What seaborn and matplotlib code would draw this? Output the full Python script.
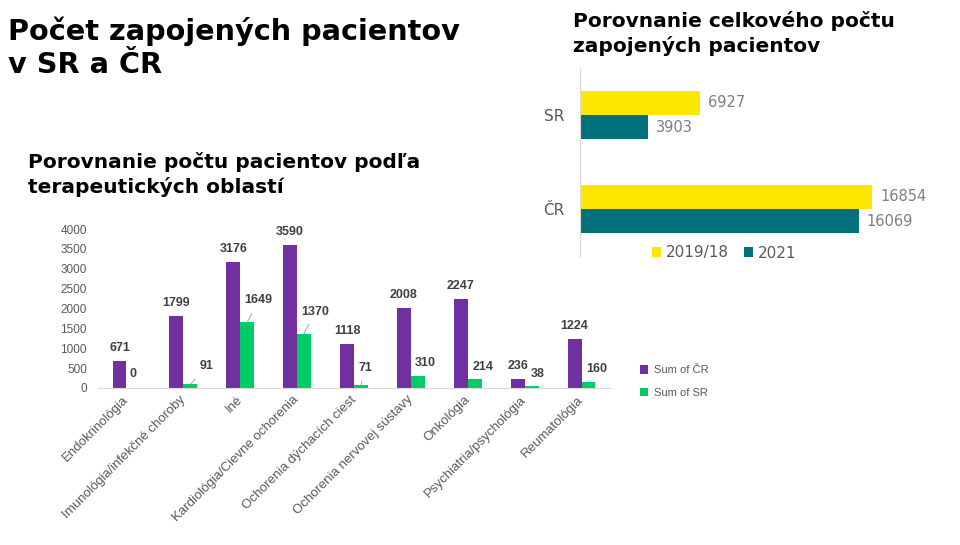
import pandas as pd
import matplotlib.pyplot as plt
import seaborn as sns

# --- data ---
oblasti = ['Endokrinológia', 'Imunológia/infekčné choroby', 'Iné', 'Kardiológia/Cievne ochorenia',
           'Ochorenia dýchacích ciest', 'Ochorenia nervovej sústavy', 'Onkológia',
           'Psychiatria/psychológia', 'Reumatológia']
pocet_cr = [671, 1799, 3176, 3590, 1118, 2008, 2247, 236, 1224]
pocet_sr = [0, 91, 1649, 1370, 71, 310, 214, 38, 160]
serie = ['Sum of ČR', 'Sum of SR']

krajiny = ['SR', 'ČR']
obdobia = ['2019/18', '2021']
celkom_2019 = [6927, 16854]
celkom_2021 = [3903, 16069]

# SR labels were moved by hand in the original (dx, dy in px), some with leader lines
sr_offsets = [(0, 14), (16, 18), (11, 22), (11, 22), (4, 17), (7, 13), (8.5, 12.5), (6.5, 12.5), (8, 12.5)]
sr_leader = [False, True, True, True, True, False, False, False, False]

sns.set_style('white')
plt.rcParams['font.family'] = ['DejaVu Sans']

W, H = 960, 545
fig = plt.figure(figsize=(9.6, 5.45), dpi=100)

# --- titles ---
fig.text(8 / W, 1 - 40 / H, 'Počet zapojených pacientov', fontsize=20.7, fontweight='bold', va='baseline', color='black')
fig.text(8 / W, 1 - 73 / H, 'v SR a ČR', fontsize=20.7, fontweight='bold', va='baseline', color='black')
fig.text(28 / W, 1 - 168 / H, 'Porovnanie počtu pacientov podľa', fontsize=14.5, fontweight='bold', va='baseline', color='black')
fig.text(28 / W, 1 - 193 / H, 'terapeutických oblastí', fontsize=14.5, fontweight='bold', va='baseline', color='black')
fig.text(573 / W, 1 - 27 / H, 'Porovnanie celkového počtu', fontsize=14.5, fontweight='bold', va='baseline', color='black')
fig.text(573 / W, 1 - 52 / H, 'zapojených pacientov', fontsize=14.5, fontweight='bold', va='baseline', color='black')

# --- therapeutic areas chart ---
df_obl = pd.DataFrame({
    'oblast': oblasti * 2,
    'rad': [serie[0]] * len(oblasti) + [serie[1]] * len(oblasti),
    'pocet': pocet_cr + pocet_sr,
})

ax1 = fig.add_axes([98 / W, 1 - 388 / H, 512 / W, 159 / H])
sns.barplot(data=df_obl, x='oblast', y='pocet', hue='rad', palette=['#7030A0', '#00CC66'],
            width=0.49, errorbar=None, saturation=1, linewidth=0, ax=ax1)
ax1.set_ylim(0, 4000)
ax1.set_xlim(-0.5, 8.5)
ax1.set_yticks(range(0, 4001, 500))
ax1.set_xlabel('')
ax1.set_ylabel('')
for s in ['top', 'right', 'left']:
    ax1.spines[s].set_visible(False)
ax1.spines['bottom'].set_color('#D9D9D9')
ax1.tick_params(axis='both', length=0)
ax1.tick_params(axis='y', pad=8, labelsize=8.5, labelcolor='#595959')
ax1.set_xticks(range(len(oblasti)))
ax1.set_xticklabels(oblasti, rotation=45, ha='right', va='center', rotation_mode='anchor',
                    fontsize=9.5, color='#595959', family='Liberation Sans')
ax1.tick_params(axis='x', pad=7)
for t in ax1.get_yticklabels():
    t.set_family('Liberation Sans')

for i, p in enumerate(ax1.containers[0]):
    x = p.get_x() + p.get_width() / 2
    ax1.annotate(str(pocet_cr[i]), (x, pocet_cr[i]), xytext=(0, 13 * 0.72), textcoords='offset points',
                 ha='center', va='center', fontsize=9, fontweight='bold', color='#404040',
                 family='Liberation Sans')
for i, p in enumerate(ax1.containers[1]):
    x = p.get_x() + p.get_width() / 2
    dx, dy = sr_offsets[i]
    arrow = dict(arrowstyle='-', color='#A6A6A6', lw=0.7, shrinkA=3, shrinkB=0) if sr_leader[i] else None
    ax1.annotate(str(pocet_sr[i]), (x, pocet_sr[i]), xytext=(dx * 0.72, dy * 0.72), textcoords='offset points',
                 ha='center', va='center', fontsize=9, fontweight='bold', color='#404040',
                 family='Liberation Sans', arrowprops=arrow)

h, l = ax1.get_legend_handles_labels()
ax1.legend(h, l, loc='center left', bbox_to_anchor=(630 / W, 1 - 381.5 / H), bbox_transform=fig.transFigure,
           frameon=False, prop={'family': 'Liberation Sans', 'size': 8}, handlelength=0.75, handleheight=0.75,
           handletextpad=0.5, labelspacing=1.1, labelcolor='#595959')

# --- totals chart ---
df_cel = pd.DataFrame({
    'krajina': krajiny * 2,
    'obdobie': [obdobia[0]] * len(krajiny) + [obdobia[1]] * len(krajiny),
    'pocet': celkom_2019 + celkom_2021,
})

ax2 = fig.add_axes([580 / W, 1 - 256 / H, 312 / W, 188 / H])
ax2.set_facecolor('none')
sns.barplot(data=df_cel, y='krajina', x='pocet', hue='obdobie', orient='h', palette=['#FFE600', '#00707A'],
            width=0.52, errorbar=None, saturation=1, linewidth=0, ax=ax2)
ax2.set_xlim(0, 18000)
ax2.set_ylim(1.5, -0.5)
for c in ax2.containers:
    ax2.bar_label(c, padding=6, fontsize=10.5, color='#7F7F7F')
ax2.set_xticks([])
ax2.set_xlabel('')
ax2.set_ylabel('')
for s in ['top', 'right', 'bottom']:
    ax2.spines[s].set_visible(False)
ax2.spines['left'].set_color('#D9D9D9')
ax2.tick_params(axis='y', length=0, pad=11, labelsize=11, labelcolor='#595959')
ax2.legend(loc='center', bbox_to_anchor=(724 / W, 1 - 253 / H), bbox_transform=fig.transFigure, ncol=2,
           frameon=False, fontsize=11, handlelength=0.6, handleheight=0.6, handletextpad=0.3,
           columnspacing=1.0, labelcolor='#595959')

fig.savefig('out.png', dpi=100)
